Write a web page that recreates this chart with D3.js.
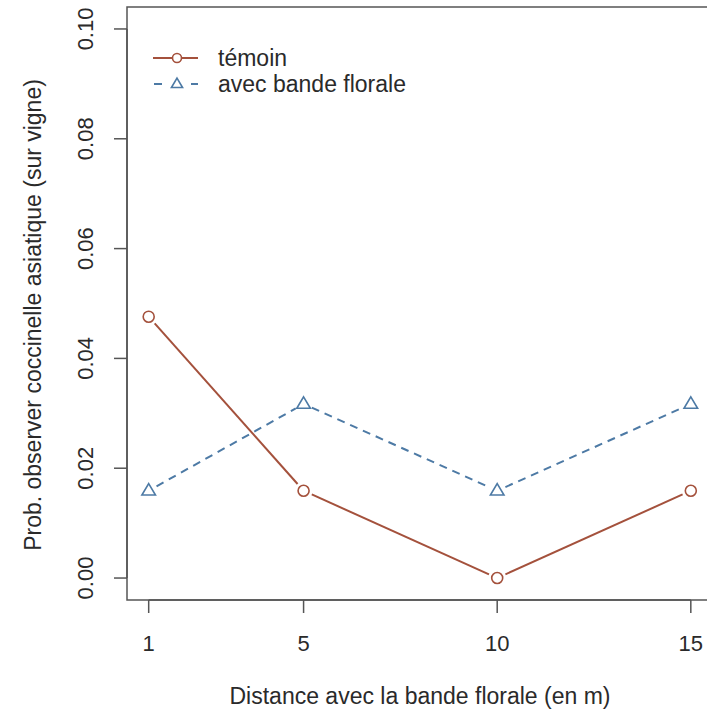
<!DOCTYPE html>
<html><head><meta charset="utf-8">
<script src="https://cdn.jsdelivr.net/npm/d3@7"></script>
<style>body{margin:0;background:#fff;} svg{display:block;font-family:"Liberation Sans",Arial,sans-serif;}</style>
</head><body>
<script>
const distances = [1, 5, 10, 15];
const temoin = [0.0476, 0.0159, 0.0, 0.0159];
const bande = [0.0159, 0.0317, 0.0159, 0.0317];
const yTicks = [0.00, 0.02, 0.04, 0.06, 0.08, 0.10];
const seriesNames = ["témoin", "avec bande florale"];
const xTitle = "Distance avec la bande florale (en m)";
const yTitle = "Prob. observer coccinelle asiatique (sur vigne)";

const W = 707, H = 715;
const red = "#a4513c", blue = "#4d7aa5", txt = "#2a2a2a";
const svg = d3.select("body").append("svg").attr("width", W).attr("height", H);

const x = d3.scaleLinear().domain([0.44, 15.56]).range([127, 712.5]);
const y = d3.scaleLinear().domain([-0.004, 0.104]).range([600, 7]);

// box
svg.append("rect").attr("x", 127).attr("y", 7).attr("width", 712.5-127).attr("height", 593)
  .attr("fill", "none").attr("stroke", "#555").attr("stroke-width", 1.5);

// y axis
const ya = svg.append("g");
ya.append("line").attr("x1",127).attr("x2",127).attr("y1",y(0)).attr("y2",y(0.1)).attr("stroke","#555").attr("stroke-width",1.5);
yTicks.forEach(t => {
  ya.append("line").attr("x1",114).attr("x2",127).attr("y1",y(t)).attr("y2",y(t)).attr("stroke","#555").attr("stroke-width",1.5);
  ya.append("text").attr("transform",`translate(93,${y(t)}) rotate(-90)`).attr("text-anchor","middle")
    .attr("font-size",22).attr("fill",txt).text(d3.format(".2f")(t));
});
// x axis
const xa = svg.append("g");
xa.append("line").attr("x1",x(1)).attr("x2",x(15)).attr("y1",600).attr("y2",600).attr("stroke","#555").attr("stroke-width",1.5);
distances.forEach(d => {
  xa.append("line").attr("x1",x(d)).attr("x2",x(d)).attr("y1",600).attr("y2",613).attr("stroke","#555").attr("stroke-width",1.5);
  xa.append("text").attr("x",x(d)).attr("y",651).attr("text-anchor","middle").attr("font-size",22).attr("fill",txt).text(d);
});
svg.append("text").attr("x",420).attr("y",704).attr("text-anchor","middle").attr("font-size",23).attr("fill",txt).text(xTitle);
svg.append("text").attr("transform",`translate(41,315) rotate(-90)`).attr("text-anchor","middle").attr("font-size",23).attr("fill",txt).text(yTitle);

function gap(a, b) {
  const dx = b[0]-a[0], dy = b[1]-a[1], L = Math.hypot(dx,dy), g = 9;
  return [[a[0]+dx*g/L, a[1]+dy*g/L],[b[0]-dx*g/L, b[1]-dy*g/L]];
}
function drawMarker(cx, cy, color, shape, s){
  if (shape==="circle") svg.append("circle").attr("cx",cx).attr("cy",cy).attr("r",s).attr("fill","#fff").attr("stroke",color).attr("stroke-width",1.6);
  else {
    const k = s*1.3;
    svg.append("path").attr("d",`M${cx},${cy-k} L${cx+k*0.95},${cy+k*0.6} L${cx-k*0.95},${cy+k*0.6}Z`)
      .attr("fill","#fff").attr("stroke",color).attr("stroke-width",1.6);
  }
}
function drawSeries(vals, color, dash, shape) {
  const pts = distances.map((d,i)=>[x(d), y(vals[i])]);
  for (let i=0;i<pts.length-1;i++){
    const [p,q] = gap(pts[i],pts[i+1]);
    svg.append("line").attr("x1",p[0]).attr("y1",p[1]).attr("x2",q[0]).attr("y2",q[1])
      .attr("stroke",color).attr("stroke-width",2).attr("stroke-dasharray",dash);
  }
  pts.forEach(p => drawMarker(p[0],p[1],color,shape,5.5));
}
drawSeries(temoin, red, null, "circle");
drawSeries(bande, blue, "8,6", "triangle");

// legend
const leg = [{name:seriesNames[0],c:red,dash:null,shape:"circle",yy:58},{name:seriesNames[1],c:blue,dash:"8,6",shape:"triangle",yy:84}];
leg.forEach(l=>{
  if (l.dash) {
    svg.append("line").attr("x1",154).attr("x2",162).attr("y1",l.yy).attr("y2",l.yy).attr("stroke",l.c).attr("stroke-width",2);
    svg.append("line").attr("x1",191).attr("x2",198).attr("y1",l.yy).attr("y2",l.yy).attr("stroke",l.c).attr("stroke-width",2);
  } else {
    svg.append("line").attr("x1",153).attr("x2",198).attr("y1",l.yy).attr("y2",l.yy).attr("stroke",l.c).attr("stroke-width",2);
  }
  drawMarker(177,l.yy,l.c,l.shape,4.5);
  svg.append("text").attr("x",218).attr("y",l.yy+8).attr("font-size",23).attr("fill",txt).text(l.name);
});
</script>
</body></html>
